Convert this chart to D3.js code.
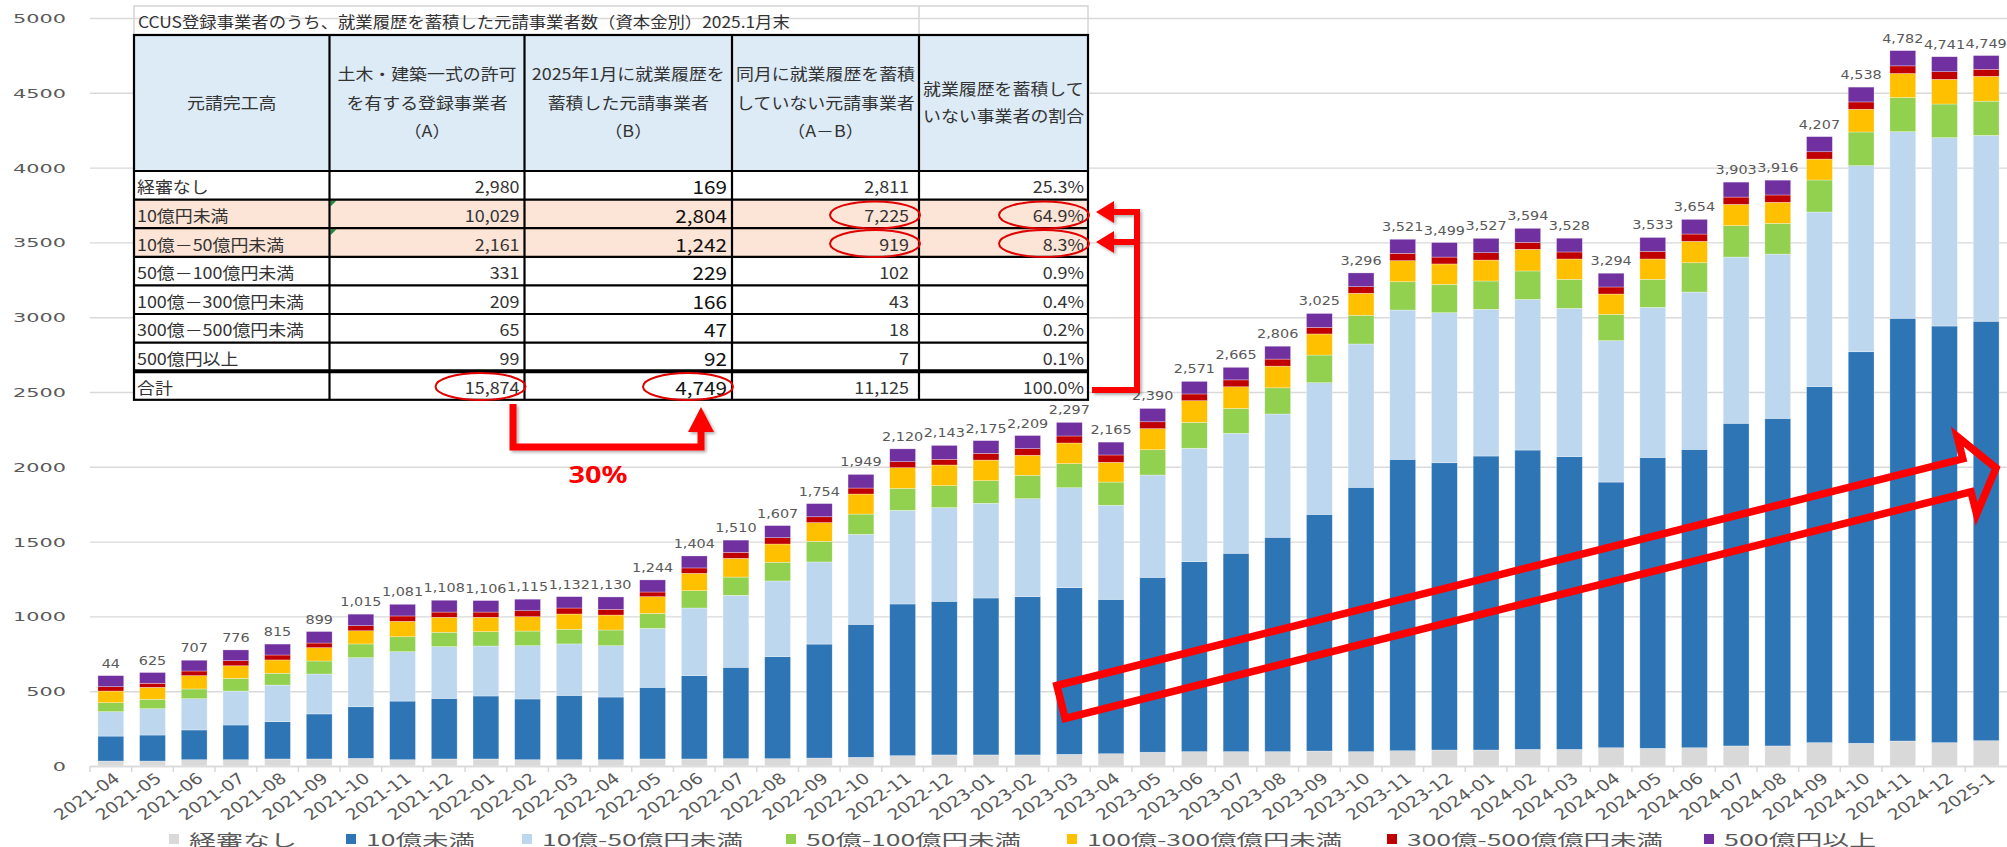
<html>
<head>
<meta charset="utf-8">
<title>CCUS 就業履歴 元請事業者数</title>
<script src="https://d3js.org/d3.v7.min.js"></script>
<style>
  body { margin: 0; background: #ffffff; }
  svg { display: block; }
</style>
</head>
<body>
<svg id="chart" width="2007" height="847"></svg>
<script>
// ---- data ----
var months = ["2021-04","2021-05","2021-06","2021-07","2021-08","2021-09","2021-10","2021-11","2021-12",
  "2022-01","2022-02","2022-03","2022-04","2022-05","2022-06","2022-07","2022-08","2022-09","2022-10","2022-11","2022-12",
  "2023-01","2023-02","2023-03","2023-04","2023-05","2023-06","2023-07","2023-08","2023-09","2023-10","2023-11","2023-12",
  "2024-01","2024-02","2024-03","2024-04","2024-05","2024-06","2024-07","2024-08","2024-09","2024-10","2024-11","2024-12",
  "2025-1"];
var seriesNames = ["経審なし","10億未満","10億-50億円未満","50億-100億円未満","100億-300億億円未満","300億-500億億円未満","500億円以上"];
var keishinNashi = [33,33,42,42,47,47,51,42,47,47,42,42,42,47,47,49,49,53,58,69,74,74,74,78,82,92,96,96,96,100,96,102,107,107,111,111,122,118,122,134,134,156,152,167,156,169];
var under10 = [167,174,199,232,249,301,345,392,405,421,406,430,419,479,557,611,682,762,889,1014,1027,1049,1058,1114,1032,1169,1270,1326,1433,1582,1767,1948,1920,1965,2001,1957,1776,1945,1995,2157,2190,2380,2617,2826,2785,2804];
var from10to50 = [163,176,209,227,245,267,328,330,346,334,356,344,343,394,452,481,506,549,602,626,626,633,655,668,629,684,758,802,824,880,958,998,1003,981,1007,991,945,1003,1051,1111,1098,1167,1244,1247,1259,1242];
var from50to100 = [60,63,65,85,79,87,92,100,96,96,98,98,105,100,116,122,125,138,135,147,147,151,156,161,155,169,173,166,175,185,192,189,189,189,190,194,176,187,196,210,205,214,225,228,225,229];
var from100to300 = [78,80,89,84,89,89,88,103,100,96,96,102,100,112,116,125,122,125,134,138,138,138,134,138,132,141,145,145,145,141,147,141,137,140,145,136,136,136,143,142,141,140,152,161,165,166];
var from300to500 = [29,27,31,34,33,31,34,36,35,35,40,40,38,31,36,40,42,39,40,40,38,45,44,47,49,46,45,46,47,44,44,49,46,49,46,47,47,51,49,49,49,49,49,51,51,47];
var over500 = [74,72,72,72,73,77,77,78,79,77,77,76,83,81,80,82,81,88,91,86,93,85,88,91,86,89,84,84,86,93,92,94,97,96,94,92,92,93,98,100,99,101,99,102,100,92];
var totalLabels = [44,625,707,776,815,899,1015,1081,1108,1106,1115,1132,1130,1244,1404,1510,1607,1754,1949,2120,2143,
  2175,2209,2297,2165,2390,2571,2665,2806,3025,3296,3521,3499,3527,3594,3528,3294,3533,3654,3903,3916,4207,4538,4782,4741,4749];
var yTicks = [0,500,1000,1500,2000,2500,3000,3500,4000,4500,5000];

// table (2025.1月末)
var tableTitle = "CCUS登録事業者のうち、就業履歴を蓄積した元請事業者数（資本金別）2025.1月末";
var tableRowNames = ["経審なし","10億円未満","10億－50億円未満","50億－100億円未満","100億－300億円未満","300億－500億円未満","500億円以上","合計"];
var colA = [2980,10029,2161,331,209,65,99,15874];
var colB = [169,2804,1242,229,166,47,92,4749];
var colAB = [2811,7225,919,102,43,18,7,11125];
var colRatio = [25.3,64.9,8.3,0.9,0.4,0.2,0.1,100.0];
var headA = ["土木・建築一式の許可","を有する登録事業者","（A）"];
var headB = ["2025年1月に就業履歴を","蓄積した元請事業者","（B）"];
var headAB = ["同月に就業履歴を蓄積","していない元請事業者","（A－B）"];
var headRatio = ["就業履歴を蓄積して","いない事業者の割合"];
var highlightRows = ["10億円未満","10億－50億円未満"];
var circledCells = [[7,"A"],[7,"B"],[1,"AB"],[2,"AB"],[1,"R"],[2,"R"]];

// ---- setup ----
var JP = "'Noto Sans CJK JP', 'Noto Sans', sans-serif";
var LAT = "'DejaVu Sans', Verdana, sans-serif";
var colors = ["#D9D9D9","#2E75B6","#BDD7EE","#92D050","#FFC000","#C00000","#7030A0"];
var seriesData = [keishinNashi, under10, from10to50, from50to100, from100to300, from300to500, over500];

var svg = d3.select("#chart");
var W = 2007, plotLeft = 90, plotBottom = 766, plotTop = 18;

var x = d3.scaleBand().domain(months).range([plotLeft, W]).paddingInner(0.38).paddingOuter(0.19);
var y = d3.scaleLinear().domain([0, 5000]).range([plotBottom, plotTop]);

var defs = svg.append("defs");
var sh = defs.append("filter").attr("id", "shadow").attr("x", "-10%").attr("y", "-10%").attr("width", "130%").attr("height", "130%");
sh.append("feDropShadow").attr("dx", 2).attr("dy", 2).attr("stdDeviation", 1.5).attr("flood-color", "#000").attr("flood-opacity", 0.3);

// y axis + gridlines
var yAxis = svg.append("g").attr("transform", "translate(" + plotLeft + ",0)")
  .call(d3.axisLeft(y).tickValues(yTicks).tickSize(-(W - plotLeft)).tickFormat(d3.format("d")));
yAxis.select(".domain").remove();
yAxis.selectAll(".tick line").attr("stroke", "#d9d9d9").attr("stroke-width", 1.4);
yAxis.selectAll(".tick text")
  .attr("x", null).attr("dy", null)
  .attr("transform", "translate(-24,0) scale(1.6,1)")
  .attr("text-anchor", "end").attr("dominant-baseline", "central")
  .style("font-family", LAT).style("font-size", "13px").attr("fill", "#595959");

// x axis
var xAxis = svg.append("g").attr("transform", "translate(0," + plotBottom + ")")
  .call(d3.axisBottom(x).tickSize(0));
xAxis.select(".domain").attr("stroke", "#d9d9d9").attr("stroke-width", 1.5);
xAxis.selectAll(".tick text")
  .attr("y", null).attr("dy", null)
  .attr("transform", "translate(6,10) scale(1.2,1) rotate(-39)")
  .attr("text-anchor", "end").attr("dominant-baseline", "central")
  .style("font-family", LAT).style("font-size", "15.5px").attr("fill", "#595959");
// tick marks between categories
xAxis.selectAll("line.sep").data(months).enter().append("line").attr("class", "sep")
  .attr("x1", function (m) { return x(m) - x.step() * x.paddingInner() / 2; })
  .attr("x2", function (m) { return x(m) - x.step() * x.paddingInner() / 2; })
  .attr("y1", 0).attr("y2", 6).attr("stroke", "#d9d9d9").attr("stroke-width", 1.5);

// stacked bars
var rows = months.map(function (m, i) {
  var r = { month: m };
  seriesNames.forEach(function (s, k) { r[s] = seriesData[k][i]; });
  return r;
});
var stacked = d3.stack().keys(seriesNames)(rows);

var layers = svg.append("g").selectAll("g.layer").data(stacked).enter()
  .append("g").attr("class", "layer").attr("fill", function (d, k) { return colors[k]; });
layers.selectAll("rect").data(function (d) { return d; }).enter().append("rect")
  .attr("x", function (d) { return x(d.data.month); })
  .attr("width", x.bandwidth())
  .attr("y", function (d) { return y(d[1]); })
  .attr("height", function (d) { return y(d[0]) - y(d[1]); })
  .attr("stroke", "#ffffff").attr("stroke-opacity", 0.5).attr("stroke-width", 0.6);

// total labels
var topStack = stacked[stacked.length - 1];
svg.append("g").selectAll("text").data(topStack).enter().append("text")
  .attr("transform", function (d, i) {
    return "translate(" + (x(d.data.month) + x.bandwidth() / 2) + "," + (y(d[1]) - 8) + ") scale(1.2,1)";
  })
  .attr("text-anchor", "middle")
  .style("font-family", LAT).style("font-size", "12px").attr("fill", "#595959")
  .text(function (d, i) { return d3.format(",")(totalLabels[i]); });

// legend
var legendX = [169, 346, 522, 786, 1067, 1387, 1704];
var legendW = [108, 109, 201, 215, 255, 256, 152];
var lg = svg.append("g");
seriesNames.forEach(function (s, k) {
  lg.append("rect").attr("x", legendX[k]).attr("y", 834).attr("width", 10).attr("height", 10).attr("fill", colors[k]);
  lg.append("text").attr("x", legendX[k] + 20).attr("y", 839)
    .attr("dominant-baseline", "central")
    .attr("textLength", legendW[k]).attr("lengthAdjust", "spacingAndGlyphs")
    .style("font-family", JP).style("font-size", "16px").attr("fill", "#595959")
    .text(s);
});

// ---- table overlay ----
function stext(parent, px, py, s, o) {
  var t = parent.append("text")
    .attr("transform", "translate(" + px + "," + py + ") scale(" + (o.sx || 1.12) + ",1)")
    .attr("text-anchor", o.anchor || "start")
    .attr("dominant-baseline", "central")
    .style("font-family", o.font || JP)
    .style("font-size", (o.size || 16) + "px")
    .attr("fill", o.fill || "#333333")
    .text(s);
  if (o.weight) t.style("font-weight", o.weight);
  return t;
}

var colX = [134, 329.5, 524.5, 732, 919, 1088];
var headTop = 35, headBot = 171, rowH = 28.6;
var tb = svg.append("g");

// title row (no fill, light grid)
tb.append("rect").attr("x", colX[0]).attr("y", 6).attr("width", colX[5] - colX[0]).attr("height", headTop - 6)
  .attr("fill", "none").attr("stroke", "#d4d4d4").attr("stroke-width", 1.5);
tb.append("line").attr("x1", colX[4]).attr("x2", colX[4]).attr("y1", 6).attr("y2", headTop).attr("stroke", "#d4d4d4").attr("stroke-width", 1.5);
stext(tb, 138, 21, tableTitle, { size: 15.5 });

// header
tb.append("rect").attr("x", colX[0]).attr("y", headTop).attr("width", colX[5] - colX[0]).attr("height", headBot - headTop).attr("fill", "#DDEBF7");
stext(tb, (colX[0] + colX[1]) / 2, 102, "元請完工高", { anchor: "middle" });
[headA, headB, headAB].forEach(function (lines, c) {
  lines.forEach(function (l, j) {
    stext(tb, (colX[c + 1] + colX[c + 2]) / 2, 73 + j * 28.5, l, { anchor: "middle" });
  });
});
headRatio.forEach(function (l, j) { stext(tb, colX[4] + 4, 88 + j * 27, l, {}); });

// body rows
tableRowNames.forEach(function (name, i) {
  var ry = headBot + i * rowH;
  var fill = highlightRows.indexOf(name) >= 0 ? "#FCE4D6" : "#ffffff";
  tb.append("rect").attr("x", colX[0]).attr("y", ry).attr("width", colX[5] - colX[0]).attr("height", rowH).attr("fill", fill);
  var cy = ry + rowH / 2 + 1;
  stext(tb, colX[0] + 3, cy, name, {});
  stext(tb, colX[2] - 5, cy, d3.format(",")(colA[i]), { anchor: "end" });
  stext(tb, colX[3] - 5, cy, d3.format(",")(colB[i]), { anchor: "end", size: 18.5, fill: "#111111" });
  stext(tb, colX[4] - 10, cy, d3.format(",")(colAB[i]), { anchor: "end" });
  stext(tb, colX[5] - 4, cy, colRatio[i].toFixed(1) + "%", { anchor: "end" });
  if (highlightRows.indexOf(name) >= 0) {
    tb.append("path").attr("d", "M" + (colX[1] + 1) + "," + (ry + 1) + "h6l-6,6z").attr("fill", "#1E8C3A");
  }
});

// table borders
var tBottom = headBot + tableRowNames.length * rowH;
tb.append("rect").attr("x", colX[0]).attr("y", headTop).attr("width", colX[5] - colX[0]).attr("height", tBottom - headTop)
  .attr("fill", "none").attr("stroke", "#000").attr("stroke-width", 2.2);
colX.slice(1, 5).forEach(function (cx) {
  tb.append("line").attr("x1", cx).attr("x2", cx).attr("y1", headTop).attr("y2", tBottom).attr("stroke", "#000").attr("stroke-width", 2.2);
});
tableRowNames.forEach(function (name, i) {
  var ry = headBot + i * rowH;
  tb.append("line").attr("x1", colX[0]).attr("x2", colX[5]).attr("y1", ry).attr("y2", ry)
    .attr("stroke", "#000").attr("stroke-width", i === tableRowNames.length - 1 ? 4 : 2.2);
});

// red ellipses around cells
var colIdx = { A: 1, B: 2, AB: 3, R: 4 };
circledCells.forEach(function (c) {
  var ci = colIdx[c[1]];
  var cy = headBot + c[0] * rowH + rowH / 2 + 1;
  var right = colX[ci + 1];
  tb.append("ellipse").attr("cx", right - 44).attr("cy", cy).attr("rx", 45).attr("ry", 13.5)
    .attr("fill", "none").attr("stroke", "#E00000").attr("stroke-width", 2);
});

// ---- annotations ----
var ann = svg.append("g").attr("filter", "url(#shadow)");
// elbow arrow 15,874 -> 4,749
ann.append("path").attr("d", "M513,404 V447 H701 V430")
  .attr("fill", "none").attr("stroke", "#FF0000").attr("stroke-width", 7).attr("stroke-linejoin", "miter");
ann.append("path").attr("d", "M688,432 L714,432 L701,407 Z").attr("fill", "#FF0000");

// bracket arrows to 64.9% / 8.3%
ann.append("path").attr("d", "M1092,390 H1137 V212 H1112 M1137,242 H1112")
  .attr("fill", "none").attr("stroke", "#FF0000").attr("stroke-width", 6).attr("stroke-linejoin", "miter");
ann.append("path").attr("d", "M1114,201 L1114,223 L1096,212 Z M1114,231 L1114,253 L1096,242 Z").attr("fill", "#FF0000");

svg.append("text")
  .attr("transform", "translate(598,483) scale(1.2,1)")
  .attr("text-anchor", "middle")
  .style("font-family", "'Noto Sans', sans-serif").style("font-size", "24px").style("font-weight", "bold")
  .attr("fill", "#FF0000").text("30%");

// big hollow arrow
var tail = [1061, 702], tip = [1996, 468];
var L = Math.hypot(tip[0] - tail[0], tip[1] - tail[1]);
var ang = Math.atan2(tip[1] - tail[1], tip[0] - tail[0]) * 180 / Math.PI;
var hw = 17, headHW = 40, headL = 30;
var pts = [[0, -hw], [L - headL, -hw], [L - headL, -headHW], [L, 0], [L - headL, headHW], [L - headL, hw], [0, hw]];
svg.append("path")
  .attr("transform", "translate(" + tail[0] + "," + tail[1] + ") rotate(" + ang + ")")
  .attr("d", d3.line()(pts) + "Z")
  .attr("fill", "none").attr("stroke", "#FF0000").attr("stroke-width", 7.5).attr("stroke-linejoin", "miter");
</script>
</body>
</html>
